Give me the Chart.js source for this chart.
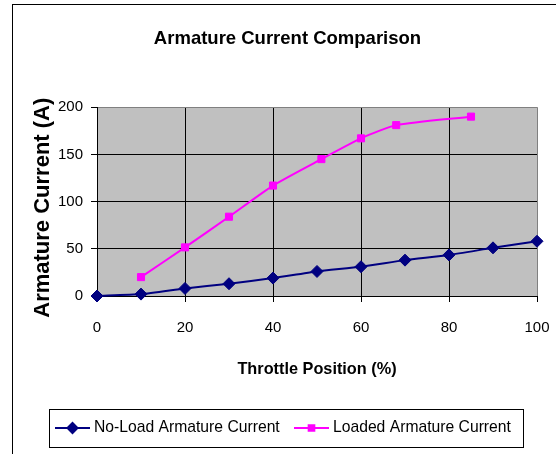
<!DOCTYPE html>
<html>
<head>
<meta charset="utf-8">
<script src="https://cdn.jsdelivr.net/npm/chart.js@4/dist/chart.umd.min.js"></script>
<style>
  html, body { margin: 0; padding: 0; background: #fff; }
  #wrap { width: 556px; height: 454px; }
</style>
</head>
<body>
<div id="wrap"><canvas id="chart" width="556" height="454"></canvas></div>
<script>
// Data
const noLoadThrottle = [0, 10, 20, 30, 40, 50, 60, 70, 80, 90, 100];
const noLoadCurrent  = [0, 2, 8, 13, 19, 26, 31, 38, 43.5, 51, 58];
const loadedThrottle = [10, 20, 30, 40, 51, 60, 68, 85];
const loadedCurrent  = [20, 51.5, 84, 117, 145, 167, 181, 190];
const seriesNames    = ['No-Load Armature Current', 'Loaded Armature Current'];

const NAVY    = '#000080';
const MAGENTA = '#ff00ff';
const FONT    = "'Liberation Sans', Arial, sans-serif";

// Gray plot area + outer frame
const backdrop = {
  id: 'backdrop',
  beforeDraw(chart) {
    const { ctx, chartArea: a } = chart;
    ctx.save();
    ctx.fillStyle = '#fff';
    ctx.fillRect(0, 0, chart.width, chart.height);
    ctx.strokeStyle = '#000';
    ctx.lineWidth = 1;
    ctx.strokeRect(12.5, 4.5, 700, 700);
    ctx.fillStyle = '#c0c0c0';
    ctx.fillRect(a.left, a.top, a.right - a.left, a.bottom - a.top);
    ctx.restore();
  }
};

// Excel style boxed legend: line sample with marker
const boxLegend = {
  id: 'boxLegend',
  afterDraw(chart) {
    const { ctx } = chart;
    ctx.save();
    ctx.strokeStyle = '#000';
    ctx.lineWidth = 1;
    ctx.strokeRect(49.5, 409.5, 474, 38);
    const cy = 428;
    const items = [
      { x0: 55, x1: 90, tx: 94, ds: chart.data.datasets[0] },
      { x0: 294, x1: 329, tx: 333, ds: chart.data.datasets[1] }
    ];
    items.forEach(it => {
      ctx.strokeStyle = it.ds.borderColor;
      ctx.lineWidth = 2;
      ctx.beginPath();
      ctx.moveTo(it.x0, cy);
      ctx.lineTo(it.x1, cy);
      ctx.stroke();
      Chart.helpers.drawPoint(ctx, {
        pointStyle: it.ds.pointStyle,
        radius: it.ds.pointRadius - 1,
        borderWidth: 1,
        rotation: 0
      }, (it.x0 + it.x1) / 2, cy);
      ctx.fillStyle = it.ds.backgroundColor;
      ctx.strokeStyle = it.ds.borderColor;
      ctx.fill();
      ctx.fillStyle = '#000';
      ctx.font = '15.7px ' + FONT;
      ctx.textBaseline = 'middle';
      ctx.textAlign = 'left';
      ctx.fillText(it.ds.label, it.tx, cy);
    });
    ctx.restore();
  }
};

const toPoints = (xs, ys) => xs.map((x, i) => ({ x: x, y: ys[i] }));

new Chart(document.getElementById('chart'), {
  type: 'scatter',
  data: {
    datasets: [{
      label:            seriesNames[0],
      data:             toPoints(noLoadThrottle, noLoadCurrent),
      showLine:         true,
      borderColor:      NAVY,
      backgroundColor:  NAVY,
      borderWidth:      2,
      pointStyle:       'rectRot',
      pointRadius:      6,
      pointBorderWidth: 1,
      tension:          0.2,
      clip:             false
    }, {
      label:            seriesNames[1],
      data:             toPoints(loadedThrottle, loadedCurrent),
      showLine:         true,
      borderColor:      MAGENTA,
      backgroundColor:  MAGENTA,
      borderWidth:      2,
      pointStyle:       'rect',
      pointRadius:      5,
      pointBorderWidth: 1,
      tension:          0.2,
      clip:             false
    }]
  },
  options: {
    responsive: false,
    animation: false,
    layout: { padding: { left: 28, right: 9, top: 0, bottom: 75 } },
    plugins: {
      legend:  { display: false },
      tooltip: { enabled: false },
      title: {
        display: true,
        text:    'Armature Current Comparison',
        color:   '#000',
        font:    { family: FONT, size: 18.5, weight: 'bold' },
        padding: { top: 28, bottom: 57 }
      }
    },
    scales: {
      x: {
        type: 'linear',
        min: 0, max: 100,
        afterFit: s => { s.height = 83; s.paddingLeft = 0; s.paddingRight = 19; },
        ticks: {
          stepSize: 20,
          color: '#000',
          padding: 17,
          font: { family: FONT, size: 15 }
        },
        grid: {
          color: c => (c.tick && c.tick.value === 100 ? '#808080' : '#000'),
          tickColor: '#000',
          tickLength: 6,
          lineWidth: 1
        },
        border: { color: '#000', width: 1 },
        title: {
          display: true,
          text: 'Throttle Position (%)',
          color: '#000',
          font: { family: FONT, size: 16.3, weight: 'bold' },
          padding: { top: 0, bottom: 0 }
        }
      },
      y: {
        min: 0, max: 200,
        afterFit: s => { s.width = 69; },
        ticks: {
          stepSize: 50,
          color: '#000',
          padding: 8,
          font: { family: FONT, size: 15 }
        },
        grid: {
          color: c => (c.tick && c.tick.value === 200 ? '#808080' : '#000'),
          tickColor: '#000',
          tickLength: 6,
          lineWidth: 1
        },
        border: { color: '#000', width: 1 },
        title: {
          display: true,
          text: 'Armature Current (A)  ',
          color: '#000',
          font: { family: FONT, size: 22, weight: 'bold' },
          padding: { top: 2, bottom: 0 }
        }
      }
    }
  },
  plugins: [backdrop, boxLegend]
});
</script>
</body>
</html>
